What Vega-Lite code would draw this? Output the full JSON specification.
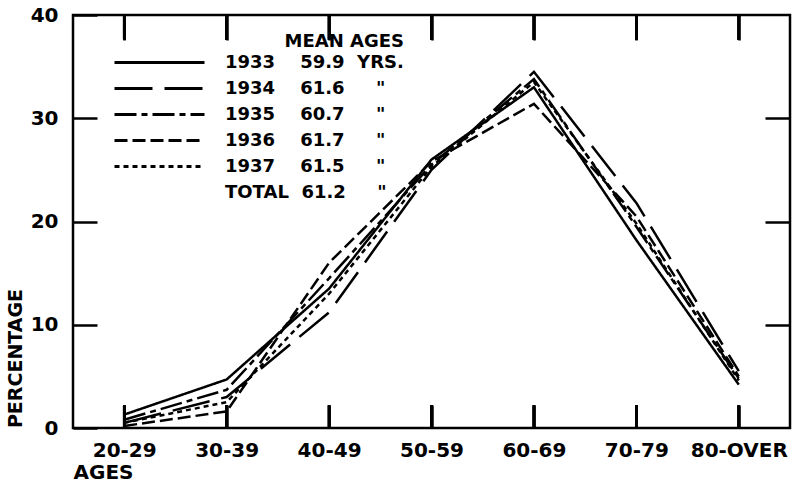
{
  "$schema": "https://vega.github.io/schema/vega-lite/v6.json",
  "width": 717,
  "height": 413,
  "autosize": {"type": "none"},
  "padding": {"left": 73, "top": 15, "right": 17, "bottom": 55},
  "background": "white",
  "config": {
    "font": "DejaVu Sans",
    "view": {"stroke": "black", "strokeWidth": 2.5},
    "axis": {
      "grid": false,
      "domain": false,
      "ticks": true,
      "labelFont": "DejaVu Sans",
      "labelFontWeight": "bold",
      "labelFontSize": 20,
      "labelColor": "black",
      "titleFont": "DejaVu Sans",
      "titleColor": "black",
      "titleFontWeight": "bold",
      "titleFontSize": 19,
      "tickColor": "black",
      "tickWidth": 2.5,
      "zindex": 1
    }
  },
  "data": {
    "values": [
      {"age": "20-29", "year": "1933", "pct": 1.3},
      {"age": "30-39", "year": "1933", "pct": 4.7},
      {"age": "40-49", "year": "1933", "pct": 13.5},
      {"age": "50-59", "year": "1933", "pct": 26.0},
      {"age": "60-69", "year": "1933", "pct": 33.0},
      {"age": "70-79", "year": "1933", "pct": 18.2},
      {"age": "80-OVER", "year": "1933", "pct": 4.2},
      {"age": "20-29", "year": "1934", "pct": 0.5},
      {"age": "30-39", "year": "1934", "pct": 3.0},
      {"age": "40-49", "year": "1934", "pct": 11.2},
      {"age": "50-59", "year": "1934", "pct": 25.0},
      {"age": "60-69", "year": "1934", "pct": 34.5},
      {"age": "70-79", "year": "1934", "pct": 21.8},
      {"age": "80-OVER", "year": "1934", "pct": 5.5},
      {"age": "20-29", "year": "1935", "pct": 0.8},
      {"age": "30-39", "year": "1935", "pct": 3.7},
      {"age": "40-49", "year": "1935", "pct": 14.5},
      {"age": "50-59", "year": "1935", "pct": 25.5},
      {"age": "60-69", "year": "1935", "pct": 33.8},
      {"age": "70-79", "year": "1935", "pct": 19.5},
      {"age": "80-OVER", "year": "1935", "pct": 4.8},
      {"age": "20-29", "year": "1936", "pct": 0.2},
      {"age": "30-39", "year": "1936", "pct": 1.6},
      {"age": "40-49", "year": "1936", "pct": 16.0},
      {"age": "50-59", "year": "1936", "pct": 25.8},
      {"age": "60-69", "year": "1936", "pct": 31.4},
      {"age": "70-79", "year": "1936", "pct": 20.5},
      {"age": "80-OVER", "year": "1936", "pct": 5.0},
      {"age": "20-29", "year": "1937", "pct": 0.5},
      {"age": "30-39", "year": "1937", "pct": 2.5},
      {"age": "40-49", "year": "1937", "pct": 13.0},
      {"age": "50-59", "year": "1937", "pct": 25.3},
      {"age": "60-69", "year": "1937", "pct": 33.5},
      {"age": "70-79", "year": "1937", "pct": 19.8},
      {"age": "80-OVER", "year": "1937", "pct": 4.6}
    ]
  },
  "layer": [
    {
      "mark": {"type": "line", "color": "black", "strokeWidth": 2.5},
      "encoding": {
        "x": {
          "field": "age",
          "type": "ordinal",
          "scale": {"type": "point", "padding": 0.5, "domain": ["20-29", "30-39", "40-49", "50-59", "60-69", "70-79", "80-OVER"]},
          "axis": {
            "orient": "bottom",
            "offset": -23,
            "labelAngle": 0,
            "ticks": true,
            "tickSize": 23,
            "labelPadding": 12,
            "title": "AGES",
            "titleFontSize": 20,
            "titleAnchor": "start",
            "titleX": 0,
            "titleY": 67,
            "titleAlign": "left",
            "titleBaseline": "middle"
          }
        },
        "y": {
          "field": "pct",
          "type": "quantitative",
          "scale": {"domain": [0, 40], "nice": false},
          "axis": {
            "values": [0, 10, 20, 30, 40],
            "offset": -24,
            "tickSize": 24,
            "labelPadding": 15,
            "title": "PERCENTAGE",
            "titleAngle": -90,
            "titleX": -82,
            "titleY": 343,
            "titleAlign": "center",
            "titleBaseline": "middle"
          }
        },
        "strokeDash": {
          "field": "year",
          "type": "nominal",
          "scale": {
            "domain": ["1933", "1934", "1935", "1936", "1937", "TOTAL"],
            "range": [[1, 0], [38, 12], [22, 5, 6, 5], [13, 5], [5, 4], [0, 200]]
          },
          "legend": {
            "orient": "none",
            "legendX": 76,
            "legendY": 18,
            "title": "MEAN AGES",
            "titleAnchor": "end",
            "titleFont": "DejaVu Sans",
            "titleFontSize": 18,
            "titleFontWeight": "bold",
            "titleColor": "black",
            "titlePadding": 1,
            "labelFont": "DejaVu Sans",
            "labelFontSize": 18,
            "labelFontWeight": "bold",
            "labelColor": "black",
            "labelLimit": 0,
            "symbolType": "M-5,0H5",
            "symbolSize": 324,
            "symbolStrokeWidth": 3,
            "symbolStrokeColor": "black",
            "symbolFillColor": "transparent",
            "labelOffset": 55,
            "rowPadding": 6,
            "labelExpr": "{'1933': '1933\u00a0\u00a0\u00a0\u00a059.9\u00a0\u00a0YRS.', '1934': '1934\u00a0\u00a0\u00a0\u00a061.6\u00a0\u00a0\u00a0\u00a0\u00a0\"', '1935': '1935\u00a0\u00a0\u00a0\u00a060.7\u00a0\u00a0\u00a0\u00a0\u00a0\"', '1936': '1936\u00a0\u00a0\u00a0\u00a061.7\u00a0\u00a0\u00a0\u00a0\u00a0\"', '1937': '1937\u00a0\u00a0\u00a0\u00a061.5\u00a0\u00a0\u00a0\u00a0\u00a0\"', 'TOTAL': 'TOTAL\u00a0\u00a061.2\u00a0\u00a0\u00a0\u00a0\u00a0\"'}[datum.label]"
          }
        }
      }
    },
    {
      "mark": {"type": "line", "opacity": 0},
      "encoding": {
        "x": {
          "field": "age",
          "type": "ordinal",
          "axis": {"orient": "top", "offset": -25, "labels": false, "tickSize": 25, "title": null}
        },
        "y": {
          "field": "pct",
          "type": "quantitative",
          "axis": {"orient": "right", "offset": -25, "labels": false, "values": [10, 20, 30], "tickSize": 25, "title": null}
        }
      }
    },
    {
      "mark": {"type": "rule", "color": "black", "strokeWidth": 2.5},
      "encoding": {
        "x": {"field": "age", "type": "ordinal", "axis": null},
        "y": {"datum": 0, "type": "quantitative", "axis": null},
        "y2": {"datum": 2.2}
      }
    },
    {
      "mark": {"type": "rule", "color": "black", "strokeWidth": 2.5},
      "encoding": {
        "x": {"field": "age", "type": "ordinal", "axis": null},
        "y": {"datum": 40, "type": "quantitative", "axis": null},
        "y2": {"datum": 37.6}
      }
    }
  ],
  "resolve": {"axis": {"x": "independent", "y": "independent"}}
}
